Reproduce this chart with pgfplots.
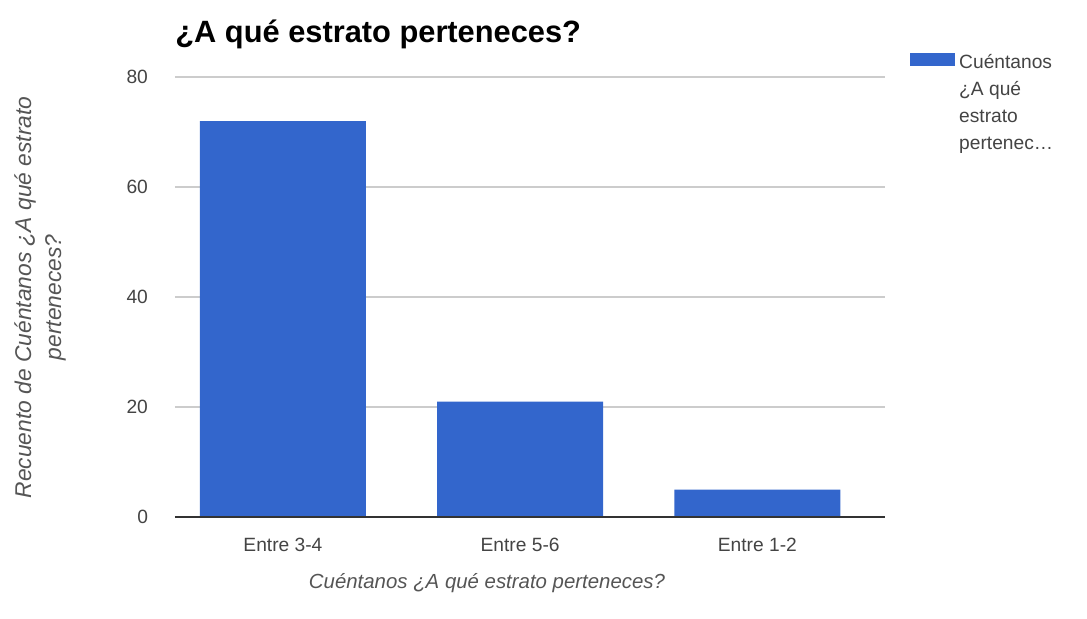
\documentclass[border=0pt]{standalone}
\usepackage{fontspec}
\setmainfont{Liberation Sans}
\usepackage{pgfplots}
\pgfplotsset{compat=1.18}
\definecolor{barblue}{HTML}{3366CC}
\definecolor{gridgray}{HTML}{CCCCCC}
\definecolor{txtgray}{HTML}{444444}
\definecolor{lblgray}{HTML}{555555}
\begin{document}
\begin{tikzpicture}
\begin{axis}[
  at={(0pt,0pt)}, anchor=south west,
  scale only axis, width=355pt, height=220pt,
  ymin=0, ymax=80, ytick={0,20,40,60,80},
  xmin=-0.455, xmax=2.538, xtick={0,1,2},
  xticklabels={Entre 3-4,Entre 5-6,Entre 1-2},
  major tick length=0pt,
  axis line style={draw=none},
  ymajorgrids, grid style={gridgray, line width=0.6pt},
  ticklabel style={font=\fontsize{9.6}{11}\selectfont, text=txtgray},
  /pgf/number format/assume math mode=true,
  yticklabel style={xshift=-10pt},
  xticklabel style={yshift=-7pt},
  ybar, bar width=0.7,
  legend style={at={(axis description cs:1.0265,1.0714)}, anchor=north west, draw=none,
    font=\fontsize{9.6}{13.5}\selectfont, text=txtgray,
    nodes={align=left, anchor=north west}},
  legend image code/.code={\fill[barblue] (0pt,-7.75pt) rectangle (22.5pt,-1.25pt);},
  clip=false,
]
\addplot[fill=barblue, draw=none] coordinates {(0,72) (1,21) (2,5)};
\addlegendentry{Cuéntanos\\¿A qué\\estrato\\pertenec…}
\draw[color=black!80, line width=1pt] (axis cs:-0.455,0) -- (axis cs:2.538,0);
\end{axis}
\node[anchor=west, inner sep=0pt, font=\bfseries\fontsize{15.4}{18}\selectfont] at (0pt,241.5pt) {¿A qué estrato perteneces?};
\node[rotate=90, align=center, font=\itshape\fontsize{11.4}{15}\selectfont, text=lblgray] at (-67.5pt,109.8pt) {Recuento de Cuéntanos ¿A qué estrato\\perteneces?};
\node[font=\itshape\fontsize{10.2}{12}\selectfont, text=lblgray] at (156pt,-33pt) {Cuéntanos ¿A qué estrato perteneces?};
\path[use as bounding box] (-87.5pt,-50.5pt) rectangle (456pt,258.5pt);
\end{tikzpicture}
\end{document}
